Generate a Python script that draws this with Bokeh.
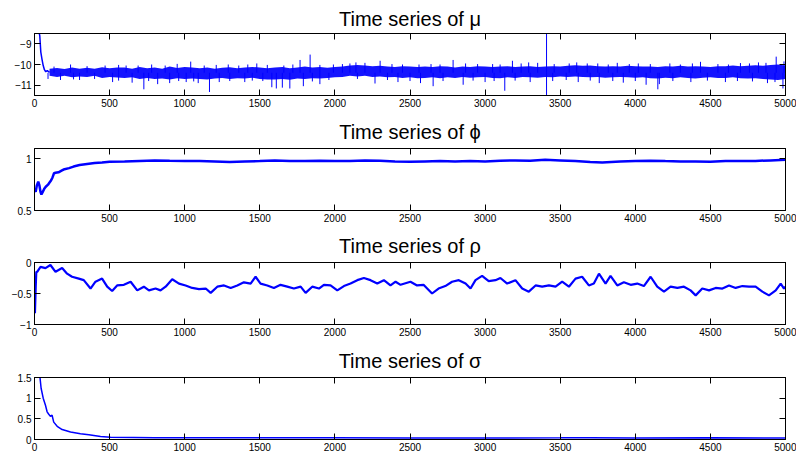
from bokeh.plotting import figure
from bokeh.models import LinearAxis, FixedTicker, Range1d
from bokeh.layouts import column
from bokeh.embed import file_html
from bokeh.resources import INLINE

# ---------------- data ----------------
x_ticks = [0, 500, 1000, 1500, 2000, 2500, 3000, 3500, 4000, 4500, 5000]
x_ticks_phi = [500, 1000, 1500, 2000, 2500, 3000, 3500, 4000, 4500, 5000]

# mu: burn-in transient
mu_early_iter = [0, 20, 35, 42, 50, 58, 66, 75, 85, 100]
mu_early_val = [-7.6, -8.1, -8.6, -9.4, -9.75, -10.05, -10.25, -10.35, -10.3, -10.38]
# mu: dense noise band (upper / lower edge every 50 iterations, 100..5000)
mu_band_iter = list(range(100, 5001, 50))
mu_upper = [
    -10.2, -10.17, -10.22, -10.14, -10.2, -10.16, -10.2, -10.13, -10.18, -10.15,
    -10.15, -10.2, -10.12, -10.18, -10.15, -10.2, -10.1, -10.17, -10.12, -10.15,
    -10.18, -10.15, -10.2, -10.16, -10.13, -10.18, -10.15, -10.12, -10.15, -10.18,
    -10.15, -10.12, -10.18, -10.14, -10.1, -10.15, -10.12, -10.16, -10.12, -10.1,
    -10.05, -10.02, -10.05, -10.08, -10.06, -10.1, -10.12, -10.08, -10.1, -10.12,
    -10.1, -10.12, -10.08, -10.1, -10.14, -10.1, -10.12, -10.08, -10.1, -10.12,
    -10.1, -10.08, -10.12, -10.1, -10.08, -10.12, -10.1, -10.08, -10.1, -10.06,
    -10.04, -10.06, -10.05, -10.08, -10.1, -10.08, -10.1, -10.06, -10.08, -10.1,
    -10.1, -10.12, -10.08, -10.1, -10.06, -10.1, -10.08, -10.1, -10.12, -10.08,
    -10.08, -10.05, -10.08, -10.06, -10.04, -10.06, -10.02, -10.0, -10.05,
]
mu_lower = [
    -10.55, -10.6, -10.55, -10.62, -10.58, -10.6, -10.55, -10.65, -10.6, -10.63,
    -10.65, -10.62, -10.7, -10.65, -10.7, -10.68, -10.72, -10.66, -10.7, -10.68,
    -10.7, -10.72, -10.68, -10.65, -10.7, -10.66, -10.68, -10.64, -10.7, -10.72,
    -10.72, -10.7, -10.74, -10.68, -10.7, -10.66, -10.68, -10.65, -10.62, -10.6,
    -10.55, -10.58, -10.55, -10.6, -10.58, -10.62, -10.6, -10.65, -10.62, -10.66,
    -10.65, -10.62, -10.66, -10.62, -10.65, -10.6, -10.64, -10.62, -10.6, -10.65,
    -10.66, -10.62, -10.65, -10.6, -10.62, -10.64, -10.6, -10.62, -10.58, -10.6,
    -10.58, -10.6, -10.62, -10.6, -10.64, -10.62, -10.6, -10.62, -10.64, -10.62,
    -10.66, -10.68, -10.64, -10.66, -10.62, -10.65, -10.68, -10.64, -10.62, -10.65,
    -10.65, -10.62, -10.66, -10.68, -10.66, -10.7, -10.72, -10.75, -10.7,
]
mu_center = -10.4
# mu: spikes sticking out of the band (iteration, tip value)
mu_spike_iter = [
    240, 470, 610, 950, 1040, 1290, 1480, 1768, 1835, 1990, 2140, 2200, 2301,
    2560, 2787, 2950, 3182, 3290, 3560, 3610, 3880, 4020, 4230, 4434, 4700,
    4820, 4938, 4990,
    173, 300, 520, 650, 728, 820, 900, 1010, 1090, 1165, 1230, 1400, 1580,
    1610, 1650, 1700, 1790, 1900, 2267, 2420, 2570, 2654, 2854, 3000, 3131,
    3300, 3620, 3760, 3920, 4072, 4150, 4160, 4370, 4600, 4880, 4983,
    3409, 3409,
    130, 350, 560, 690, 780, 870, 1130, 1210, 1360, 1420, 1550, 1660, 1720,
    1900, 2050, 2100, 2380, 2450, 2640, 2700, 2870, 3050, 3100, 3240, 3350,
    3460, 3680, 3750, 3820, 3960, 4100, 4300, 4380, 4550, 4620, 4760, 4870,
    90, 260, 400, 560, 760, 960, 1060, 1300, 1450, 1520, 1850, 1960, 2150,
    2350, 2500, 2720, 2920, 3060, 3200, 3450, 3540, 3700, 3850, 4000, 4250,
    4480, 4680, 4780, 4930,
]
mu_spike_val = [
    -10.0, -10.05, -10.05, -9.97, -9.86, -10.0, -9.95, -9.78, -9.52, -10.0,
    -9.9, -9.92, -9.82, -10.0, -9.78, -9.98, -9.82, -9.9, -9.95, -9.9, -9.92,
    -9.95, -9.95, -9.87, -9.93, -9.9, -9.62, -9.85,
    -10.75, -10.75, -10.85, -10.88, -11.2, -10.95, -10.9, -10.85, -10.9,
    -11.33, -10.85, -10.85, -11.1, -11.16, -11.12, -11.16, -11.05, -10.95,
    -10.92, -10.85, -10.9, -11.05, -10.98, -10.85, -11.27, -10.85, -10.85,
    -10.9, -10.88, -10.98, -11.2, -10.95, -10.85, -10.85, -10.9, -11.16,
    -8.0, -12.0,
    -10.1, -10.08, -10.02, -10.05, -10.0, -10.05, -10.05, -10.02, -10.05,
    -10.0, -10.02, -10.05, -10.0, -10.02, -9.98, -9.95, -9.98, -10.0, -9.98,
    -10.0, -9.95, -9.98, -10.0, -9.95, -9.92, -9.98, -9.95, -9.95, -10.0,
    -9.98, -9.98, -10.0, -9.95, -9.98, -10.0, -9.95, -9.92,
    -10.7, -10.72, -10.7, -10.78, -10.8, -10.8, -10.82, -10.8, -10.78, -10.8,
    -10.82, -10.75, -10.7, -10.75, -10.8, -10.8, -10.78, -10.8, -10.78, -10.8,
    -10.75, -10.78, -10.8, -10.8, -10.8, -10.78, -10.8, -10.82, -10.85,
]

phi_iter = [0, 8, 15, 25, 33, 40, 46, 55, 65, 75, 90, 100, 110, 120, 130, 140,
            160, 180, 200, 230, 260, 300, 350, 400, 450, 500, 600, 700, 800,
            900, 1000, 1100, 1200, 1300, 1400, 1500, 1600, 1700, 1800, 1900,
            2000, 2100, 2200, 2300, 2400, 2500, 2600, 2700, 2800, 2900, 3000,
            3100, 3200, 3300, 3400, 3500, 3600, 3700, 3780, 3900, 4000, 4100,
            4200, 4300, 4400, 4500, 4600, 4700, 4800, 4900, 5000]
phi_val = [0.70, 0.68, 0.74, 0.78, 0.74, 0.68, 0.655, 0.68, 0.71, 0.73, 0.75,
           0.77, 0.79, 0.82, 0.86, 0.865, 0.87, 0.885, 0.90, 0.91, 0.925, 0.94,
           0.95, 0.96, 0.965, 0.972, 0.975, 0.98, 0.985, 0.982, 0.98, 0.978,
           0.975, 0.97, 0.975, 0.978, 0.985, 0.98, 0.978, 0.982, 0.978, 0.98,
           0.985, 0.982, 0.975, 0.972, 0.975, 0.978, 0.975, 0.978, 0.975, 0.982,
           0.985, 0.982, 0.99, 0.985, 0.978, 0.97, 0.965, 0.975, 0.98, 0.982,
           0.978, 0.975, 0.975, 0.972, 0.978, 0.98, 0.98, 0.985, 0.99]

rho_iter = [0, 3, 8, 12, 18, 40, 73, 106, 140, 184, 217, 250, 295, 328, 373,
            406, 450, 484, 517, 550, 595, 640, 684, 728, 762, 806, 839, 873,
            917, 962, 1006, 1050, 1095, 1140, 1173, 1217, 1262, 1306, 1350,
            1394, 1439, 1472, 1505, 1550, 1594, 1638, 1683, 1727, 1772, 1805,
            1849, 1894, 1927, 1971, 2016, 2060, 2104, 2149, 2193, 2237, 2282,
            2326, 2370, 2404, 2437, 2503, 2547, 2590, 2647, 2690, 2735, 2780,
            2825, 2870, 2903, 2936, 2980, 3024, 3069, 3102, 3147, 3202, 3247,
            3291, 3336, 3380, 3425, 3469, 3513, 3558, 3602, 3646, 3691, 3724,
            3758, 3802, 3835, 3880, 3924, 3969, 4013, 4057, 4102, 4146, 4191,
            4235, 4280, 4324, 4368, 4402, 4446, 4491, 4535, 4580, 4624, 4668,
            4713, 4757, 4801, 4846, 4890, 4935, 4968, 4990, 5000]
rho_val = [-0.55, -0.82, -0.4, -0.15, -0.15, -0.07, -0.09, -0.04, -0.15, -0.09,
           -0.18, -0.23, -0.26, -0.285, -0.42, -0.31, -0.26, -0.39, -0.46, -0.37,
           -0.36, -0.31, -0.45, -0.39, -0.45, -0.42, -0.45, -0.39, -0.27, -0.34,
           -0.37, -0.41, -0.43, -0.42, -0.49, -0.39, -0.37, -0.41, -0.37, -0.32,
           -0.34, -0.23, -0.34, -0.37, -0.41, -0.36, -0.39, -0.42, -0.39, -0.49,
           -0.39, -0.42, -0.36, -0.37, -0.45, -0.38, -0.34, -0.285, -0.25, -0.285,
           -0.34, -0.285, -0.37, -0.31, -0.36, -0.31, -0.37, -0.36, -0.50, -0.42,
           -0.38, -0.31, -0.285, -0.34, -0.42, -0.285, -0.215, -0.30, -0.285,
           -0.25, -0.34, -0.285, -0.42, -0.47, -0.37, -0.39, -0.37, -0.39, -0.31,
           -0.39, -0.26, -0.23, -0.37, -0.34, -0.18, -0.34, -0.215, -0.37, -0.32,
           -0.36, -0.34, -0.38, -0.23, -0.39, -0.47, -0.39, -0.41, -0.39, -0.45,
           -0.53, -0.42, -0.45, -0.41, -0.42, -0.37, -0.41, -0.38, -0.39, -0.39,
           -0.47, -0.53, -0.45, -0.34, -0.42, -0.39]

sigma_iter = [0, 20, 36, 44, 58, 73, 84, 95, 106, 117, 128, 151, 184, 240, 306,
              362, 440, 506, 661, 800, 1000, 1300, 1500, 2000, 2500, 3000, 3500,
              3700, 4000, 4500, 5000]
sigma_val = [2.2, 1.9, 1.52, 1.24, 1.0, 0.83, 0.67, 0.61, 0.56, 0.59, 0.42, 0.32,
             0.24, 0.18, 0.14, 0.115, 0.073, 0.057, 0.049, 0.042, 0.04, 0.045,
             0.04, 0.04, 0.038, 0.035, 0.04, 0.045, 0.035, 0.042, 0.035]

BLUE = "#0000FF"
FONT = "Liberation Sans"


def panel(title, y_rng, y_ticks, y_labels, height, top_border, title_gap,
          bottom, xt):
    p = figure(width=796, height=height, x_range=Range1d(0, 5000),
               y_range=Range1d(*y_rng), output_backend="svg",
               toolbar_location=None, min_border_left=34, min_border_right=11,
               min_border_top=top_border, min_border_bottom=bottom)
    p.title.text = title
    p.title.align = "center"
    p.title.text_font = FONT
    p.title.text_font_size = "20px"
    p.title.text_font_style = "normal"
    p.title.text_color = "black"
    p.title.standoff = title_gap
    p.xgrid.visible = False
    p.ygrid.visible = False
    p.outline_line_color = "black"
    p.outline_line_alpha = 1
    p.background_fill_color = "white"
    p.border_fill_color = "white"
    for ax in p.xaxis:
        ax.ticker = FixedTicker(ticks=xt)
    for ax in p.yaxis:
        ax.ticker = FixedTicker(ticks=y_ticks)
        ax.major_label_overrides = {t: l for t, l in zip(y_ticks, y_labels)}
    for ax in list(p.xaxis) + list(p.yaxis):
        ax.major_tick_in = 6
        ax.major_tick_out = 0
        ax.minor_tick_line_color = None
        ax.axis_line_color = "black"
        ax.major_tick_line_color = "black"
        ax.major_label_text_font = FONT
        ax.major_label_text_font_size = "10px"
        ax.major_label_text_color = "black"
        ax.major_label_standoff = 3
    # mirrored tick marks (no labels) on top and right, like a boxed axes
    top = LinearAxis(ticker=FixedTicker(ticks=xt), major_tick_in=6,
                     major_tick_out=0, minor_tick_line_color=None,
                     major_label_text_font_size="1px", major_label_standoff=0,
                     major_label_text_color=None,
                     axis_line_color="black", major_tick_line_color="black")
    right = LinearAxis(ticker=FixedTicker(ticks=y_ticks), major_tick_in=6,
                       major_tick_out=0, minor_tick_line_color=None,
                       major_label_text_font_size="1px", major_label_standoff=0,
                       major_label_text_color=None,
                       axis_line_color="black", major_tick_line_color="black")
    p.add_layout(top, "above")
    p.add_layout(right, "right")
    return p


p1 = panel("Time series of \u03bc", (-11.5, -8.5), [-11, -10, -9],
           ["\u221211", "\u221210", "\u22129"], 111, 33, 7, 16, x_ticks)
p1.varea(x=mu_band_iter, y1=mu_lower, y2=mu_upper, fill_color=BLUE,
         fill_alpha=0.92)
p1.line(mu_early_iter, mu_early_val, line_color=BLUE, line_width=1.5)
p1.segment(x0=mu_spike_iter, y0=[mu_center] * len(mu_spike_iter),
           x1=mu_spike_iter, y1=mu_spike_val, line_color=BLUE, line_width=1)

p2 = panel("Time series of \u03d5", (0.5, 1.1), [0.5, 1], ["0.5", "1"],
           114, 37, 12, 15, x_ticks_phi)
p2.line(phi_iter, phi_val, line_color=BLUE, line_width=2.5)

p3 = panel("Time series of \u03c1", (-1, 0), [-1, -0.5, 0],
           ["\u22121", "\u22120.5", "0"], 115, 37, 12, 16, x_ticks)
p3.line(rho_iter, rho_val, line_color=BLUE, line_width=2.2)

p4 = panel("Time series of \u03c3", (0, 1.5), [0, 0.5, 1, 1.5],
           ["0", "0.5", "1", "1.5"], 118, 37, 12, 19, x_ticks)
p4.line(sigma_iter, sigma_val, line_color=BLUE, line_width=1.5)

layout = column(p1, p2, p3, p4, spacing=0)
open("out.html", "w").write(file_html(layout, INLINE))
